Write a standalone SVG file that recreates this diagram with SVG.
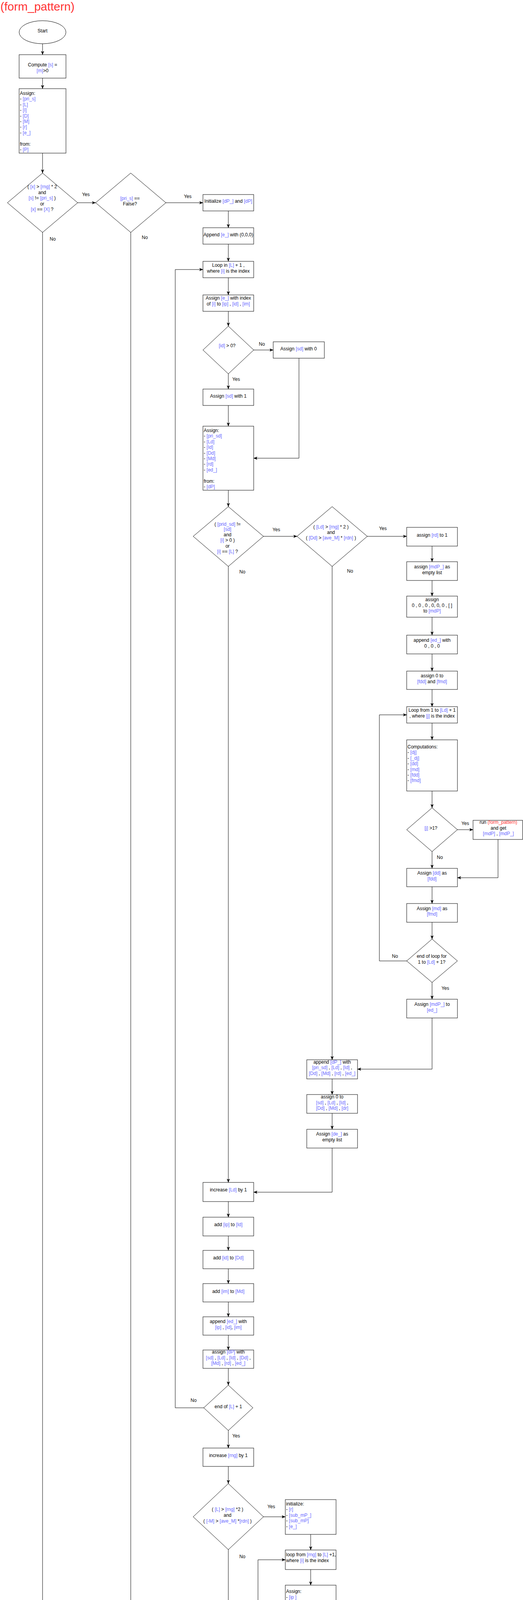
<svg xmlns="http://www.w3.org/2000/svg" width="1340" height="6288" viewBox="0 0 1340 6288">
<style>
.t{font-family:"Liberation Sans",Arial,Helvetica,sans-serif;font-size:12px;fill:#000}
.c{text-anchor:middle}
.v{fill:#6666FF}
.r{fill:#FF3333}
.n{fill:#fff;stroke:#000;stroke-width:1}
.e{fill:none;stroke:#000;stroke-width:1}
</style>
<defs>
<marker id="a" viewBox="0 0 10 8" markerWidth="10" markerHeight="8" refX="9.5" refY="4" orient="auto" markerUnits="userSpaceOnUse">
<path d="M0,0 L10,4 L0,8 L2.5,4 Z" fill="#000"/>
</marker>
</defs>
<rect x="0" y="0" width="1340" height="6288" fill="#fff"/>
<text x="1" y="27" style="font-family:'Liberation Sans',Arial,sans-serif;font-size:30px;fill:#FF3333">(form_pattern)</text>

<g id="connectors" class="e" marker-end="url(#a)">
<path d="M109,112V140"/>
<path d="M109,200V227"/>
<path d="M109,392V443"/>
<path d="M199,519H245"/>
<path d="M425,519H520"/>
<path d="M585,540V583"/>
<path d="M585,625V669"/>
<path d="M585,711V755"/>
<path d="M585,797V835"/>
<path d="M650,896H700"/>
<path d="M585,957V996"/>
<path d="M585,1038V1091"/>
<path d="M766,917V1173H650"/>
<path d="M585,1255V1297"/>
<path d="M675,1373H761"/>
<path d="M941,1373H1042"/>
<path d="M1107,1398V1438"/>
<path d="M1107,1486V1526"/>
<path d="M1107,1580V1626"/>
<path d="M1107,1674V1718"/>
<path d="M1107,1765V1809"/>
<path d="M1107,1851V1894"/>
<path d="M1107,2025V2068"/>
<path d="M1172,2124H1212"/>
<path d="M1107,2180V2223"/>
<path d="M1276,2149V2247H1172"/>
<path d="M1107,2270V2313"/>
<path d="M1107,2361V2404"/>
<path d="M1042,2460H972V1830H1042"/>
<path d="M1107,2515V2558"/>
<path d="M1107,2606V2737H916"/>
<path d="M851,1450V2713"/>
<path d="M851,2762V2802"/>
<path d="M851,2850V2891"/>
<path d="M851,2939V3052H650"/>
<path d="M585,1450V3027"/>
<path d="M585,3076V3116"/>
<path d="M585,3164V3201"/>
<path d="M585,3248V3286"/>
<path d="M585,3333V3371"/>
<path d="M585,3418V3456"/>
<path d="M585,3503V3546"/>
<path d="M522,3604H449V690H520"/>
<path d="M585,3662V3707"/>
<path d="M585,3754V3798"/>
<path d="M675,3883H731"/>
<path d="M796,3928V3968"/>
<path d="M796,4018V4058"/>
<path d="M796,4257V4298"/>
<path d="M858,4352H901"/>
<path d="M796,4407V4448"/>
<path d="M796,4498V4537"/>
<path d="M966,4378V4588H861"/>
<path d="M796,4638V4678"/>
<path d="M858,4732H917"/>
<path d="M796,4787V4838"/>
<path d="M982,4757V4898H865"/>
<path d="M727,4898H661V3993H731"/>
<path d="M796,4956V5002"/>
<path d="M796,5049V5163H650"/>
<path d="M585,3967V5138"/>
<path d="M585,5185V5272H400"/>
<path d="M335,595V5247"/>
<path d="M335,5297V5343"/>
<path d="M335,5390V5440"/>
<path d="M335,5487V5563H169"/>
<path d="M109,595V5537"/>
<path d="M109,5584V5625"/>
<path d="M109,5672V5712"/>
<path d="M109,5758V5799"/>
<path d="M109,5846V5885"/>
<path d="M109,5933V5972"/>
<path d="M109,6019V6057"/>
<path d="M109,6104V6142"/>
<path d="M109,6189V6227"/>
</g>

<g id="edge-labels" class="t c">
<text x="220" y="502">Yes</text>
<text x="481" y="507">Yes</text>
<text x="135" y="616">No</text>
<text x="371" y="612">No</text>
<text x="671" y="885">No</text>
<text x="605" y="975">Yes</text>
<text x="708" y="1360">Yes</text>
<text x="981" y="1357">Yes</text>
<text x="621" y="1468">No</text>
<text x="897" y="1466">No</text>
<text x="1192" y="2112">Yes</text>
<text x="1127" y="2199">No</text>
<text x="1012" y="2452">No</text>
<text x="1141" y="2534">Yes</text>
<text x="496" y="3589">No</text>
<text x="605" y="3680">Yes</text>
<text x="695" y="3861">Yes</text>
<text x="621" y="3989">No</text>
<text x="871" y="4339">Yes</text>
<text x="817" y="4429">No</text>
<text x="876" y="4721">Yes</text>
<text x="817" y="4814">No</text>
<text x="711" y="4886">No</text>
<text x="821" y="4971">Yes</text>
</g>

<g id="start"><ellipse class="n" cx="109" cy="82.5" rx="60" ry="29.5"/><text class="t c" x="109" y="83">Start</text></g>

<g id="compute-s"><rect class="n" x="49" y="140" width="120" height="60"/><text class="t c"><tspan x="109" y="170">Compute <tspan class="v">[s]</tspan> =</tspan><tspan x="109" y="185"><tspan class="v">[m]</tspan>&gt;0</tspan></text></g>

<g id="assign-1"><rect class="n" x="49" y="227" width="120" height="165"/><text class="t"><tspan x="51" y="243">Assign:</tspan><tspan x="51" y="257.4">- <tspan class="v">[pri_s]</tspan></tspan><tspan x="51" y="271.8">- <tspan class="v">[L]</tspan></tspan><tspan x="51" y="286.2">- <tspan class="v">[I]</tspan></tspan><tspan x="51" y="300.6">- <tspan class="v">[D]</tspan></tspan><tspan x="51" y="315">- <tspan class="v">[M]</tspan></tspan><tspan x="51" y="329.4">- <tspan class="v">[r]</tspan></tspan><tspan x="51" y="343.8">- <tspan class="v">[e_]</tspan></tspan><tspan x="51" y="372.6">from:</tspan><tspan x="51" y="387">- <tspan class="v">[P]</tspan></tspan></text></g>

<g id="dec-x-rng"><polygon class="n" points="109,443 199,519 109,595 19,519"/><text class="t c"><tspan x="108" y="482">( <tspan class="v">[x]</tspan> &gt; <tspan class="v">[rng]</tspan> * 2</tspan><tspan x="108" y="496.5">and</tspan><tspan x="108" y="511"><tspan class="v">[s]</tspan> != <tspan class="v">[pri_s]</tspan> )</tspan><tspan x="108" y="525.5">or</tspan><tspan x="108" y="540"><tspan class="v">[x]</tspan> == <tspan class="v">[X]</tspan> ?</tspan></text></g>

<g id="dec-pri-s"><polygon class="n" points="335,443 425,519 335,595 245,519"/><text class="t c"><tspan x="333" y="512"><tspan class="v">[pri_s]</tspan> ==</tspan><tspan x="333" y="526">False?</tspan></text></g>

<g id="init-dp"><rect class="n" x="520" y="498" width="130" height="42"/><text class="t c" x="585" y="519">Initialize <tspan class="v">[dP_]</tspan> and <tspan class="v">[dP]</tspan></text></g>

<g id="append-e"><rect class="n" x="520" y="583" width="130" height="42"/><text class="t c" x="585" y="605">Append <tspan class="v">[e_]</tspan> with (0,0,0)</text></g>

<g id="loop-L"><rect class="n" x="520" y="669" width="130" height="42"/><text class="t c"><tspan x="585" y="683">Loop in  <tspan class="v">[L]</tspan> + 1 ,</tspan><tspan x="585" y="697.5">where <tspan class="v">[i]</tspan> is the index</tspan></text></g>

<g id="assign-e-index"><rect class="n" x="520" y="755" width="130" height="42"/><text class="t c"><tspan x="585" y="767">Assign <tspan class="v">[e_]</tspan> with index</tspan><tspan x="585" y="782">of <tspan class="v">[i]</tspan> to <tspan class="v">[ip]</tspan> , <tspan class="v">[id]</tspan> , <tspan class="v">[im]</tspan></tspan></text></g>

<g id="dec-id"><polygon class="n" points="585,835 650,896 585,957 520,896"/><text class="t c" x="582" y="889"><tspan class="v">[id]</tspan> &gt; 0?</text></g>

<g id="assign-sd0"><rect class="n" x="700" y="875" width="131" height="42"/><text class="t c" x="765" y="897">Assign <tspan class="v">[sd]</tspan> with 0</text></g>

<g id="assign-sd1"><rect class="n" x="520" y="996" width="130" height="42"/><text class="t c" x="585" y="1018">Assign <tspan class="v">[sd]</tspan> with 1</text></g>

<g id="assign-2"><rect class="n" x="520" y="1091" width="130" height="164"/><text class="t"><tspan x="522" y="1106">Assign:</tspan><tspan x="522" y="1120.4">- <tspan class="v">[pri_sd]</tspan></tspan><tspan x="522" y="1134.8">- <tspan class="v">[Ld]</tspan></tspan><tspan x="522" y="1149.2">- <tspan class="v">[Id]</tspan></tspan><tspan x="522" y="1163.6">- <tspan class="v">[Dd]</tspan></tspan><tspan x="522" y="1178">- <tspan class="v">[Md]</tspan></tspan><tspan x="522" y="1192.4">- <tspan class="v">[rd]</tspan></tspan><tspan x="522" y="1206.8">- <tspan class="v">[ed_]</tspan></tspan><tspan x="522" y="1235.6">from:</tspan><tspan x="522" y="1250">- <tspan class="v">[dP]</tspan></tspan></text></g>

<g id="dec-prid"><polygon class="n" points="585,1297 675,1373 585,1450 495,1373"/><text class="t c"><tspan x="583" y="1346">( <tspan class="v">[prid_sd]</tspan> !=</tspan><tspan x="583" y="1359"><tspan class="v">[sd]</tspan></tspan><tspan x="583" y="1373">and</tspan><tspan x="583" y="1387"><tspan class="v">[i]</tspan> &gt; 0 )</tspan><tspan x="583" y="1402">or</tspan><tspan x="583" y="1416"><tspan class="v">[i]</tspan> == <tspan class="v">[L]</tspan> ?</tspan></text></g>

<g id="dec-Ld"><polygon class="n" points="851,1297 941,1373 851,1450 761,1373"/><text class="t c"><tspan x="848" y="1353">( <tspan class="v">[Ld]</tspan> &gt; <tspan class="v">[rng]</tspan> * 2 )</tspan><tspan x="848" y="1367">and</tspan><tspan x="848" y="1381">( <tspan class="v">[Dd]</tspan> &gt; <tspan class="v">[ave_M]</tspan> * <tspan class="v">[rdn]</tspan> )</tspan></text></g>

<g id="assign-rd"><rect class="n" x="1042" y="1350" width="130" height="48"/><text class="t c" x="1107" y="1374">assign <tspan class="v">[rd]</tspan> to 1</text></g>

<g id="assign-mdP_"><rect class="n" x="1042" y="1438" width="130" height="48"/><text class="t c"><tspan x="1107" y="1455">assign <tspan class="v">[mdP_]</tspan> as</tspan><tspan x="1107" y="1470">empty list</tspan></text></g>

<g id="assign-mdP"><rect class="n" x="1042" y="1526" width="130" height="54"/><text class="t c"><tspan x="1107" y="1539">assign</tspan><tspan x="1107" y="1554">0 , 0 , 0 , 0, 0, 0 , [ ]</tspan><tspan x="1107" y="1568">to <tspan class="v">[mdP]</tspan></tspan></text></g>

<g id="append-ed"><rect class="n" x="1042" y="1626" width="130" height="48"/><text class="t c"><tspan x="1107" y="1643">append <tspan class="v">[ed_]</tspan> with</tspan><tspan x="1107" y="1658">0 , 0 , 0</tspan></text></g>

<g id="assign-fdd"><rect class="n" x="1042" y="1718" width="130" height="47"/><text class="t c"><tspan x="1107" y="1734">assign 0 to</tspan><tspan x="1107" y="1749"><tspan class="v">[fdd]</tspan> and <tspan class="v">[fmd]</tspan></tspan></text></g>

<g id="loop-j"><rect class="n" x="1042" y="1809" width="130" height="42"/><text class="t c"><tspan x="1107" y="1822">Loop from 1 to  <tspan class="v">[Ld]</tspan> + 1</tspan><tspan x="1107" y="1837">, where <tspan class="v">[j]</tspan> is the index</tspan></text></g>

<g id="computations-1"><rect class="n" x="1042" y="1894" width="130" height="131"/><text class="t"><tspan x="1044" y="1916">Computations:</tspan><tspan x="1044" y="1930.4">- <tspan class="v">[dj]</tspan></tspan><tspan x="1044" y="1944.8">- <tspan class="v">[_dj]</tspan></tspan><tspan x="1044" y="1959.2">- <tspan class="v">[dd]</tspan></tspan><tspan x="1044" y="1973.6">- <tspan class="v">[md]</tspan></tspan><tspan x="1044" y="1988">- <tspan class="v">[fdd]</tspan></tspan><tspan x="1044" y="2002.4">- <tspan class="v">[fmd]</tspan></tspan></text></g>

<g id="dec-j"><polygon class="n" points="1107,2068 1172,2124 1107,2180 1042,2124"/><text class="t c" x="1104" y="2124"><tspan class="v">[j]</tspan> &gt;1?</text></g>

<g id="run-fp-1"><rect class="n" x="1212" y="2100" width="127" height="49"/><text class="t c"><tspan x="1277" y="2109">run <tspan class="r">(form_pattern)</tspan></tspan><tspan x="1277" y="2124">and get</tspan><tspan x="1277" y="2138"><tspan class="v">[mdP]</tspan> , <tspan class="v">[mdP_]</tspan></tspan></text></g>

<g id="assign-dd"><rect class="n" x="1042" y="2223" width="130" height="47"/><text class="t c"><tspan x="1107" y="2239">Assign <tspan class="v">[dd]</tspan> as</tspan><tspan x="1107" y="2254"><tspan class="v">[fdd]</tspan></tspan></text></g>

<g id="assign-md"><rect class="n" x="1042" y="2313" width="130" height="48"/><text class="t c"><tspan x="1107" y="2330">Assign <tspan class="v">[md]</tspan> as</tspan><tspan x="1107" y="2344"><tspan class="v">[fmd]</tspan></tspan></text></g>

<g id="dec-end-j"><polygon class="n" points="1107,2404 1172,2460 1107,2515 1042,2460"/><text class="t c"><tspan x="1106" y="2452">end of loop for</tspan><tspan x="1106" y="2467">1 to  <tspan class="v">[Ld]</tspan> + 1?</tspan></text></g>

<g id="assign-mdP-ed"><rect class="n" x="1042" y="2558" width="130" height="48"/><text class="t c"><tspan x="1107" y="2575">Assign <tspan class="v">[mdP_]</tspan> to</tspan><tspan x="1107" y="2590"><tspan class="v">[ed_]</tspan></tspan></text></g>

<g id="append-dP_"><rect class="n" x="786" y="2713" width="130" height="49"/><text class="t c"><tspan x="851" y="2723">append <tspan class="v">[dP_]</tspan> with</tspan><tspan x="851" y="2737"><tspan class="v">[pri_sd]</tspan> , <tspan class="v">[Ld]</tspan> , <tspan class="v">[Id]</tspan> ,</tspan><tspan x="851" y="2752"><tspan class="v">[Dd]</tspan> , <tspan class="v">[Md]</tspan> , <tspan class="v">[rd]</tspan> , <tspan class="v">[ed_]</tspan></tspan></text></g>

<g id="assign-zero-d"><rect class="n" x="786" y="2802" width="130" height="48"/><text class="t c"><tspan x="851" y="2812">assign 0 to</tspan><tspan x="851" y="2827"><tspan class="v">[sd]</tspan> , <tspan class="v">[Ld]</tspan> , <tspan class="v">[Id]</tspan> ,</tspan><tspan x="851" y="2841"><tspan class="v">[Dd]</tspan> , <tspan class="v">[Md]</tspan> , <tspan class="v">[dr]</tspan></tspan></text></g>

<g id="assign-de"><rect class="n" x="786" y="2891" width="130" height="48"/><text class="t c"><tspan x="851" y="2907">Assign <tspan class="v">[de_]</tspan> as</tspan><tspan x="851" y="2922">empty list</tspan></text></g>

<g id="inc-Ld"><rect class="n" x="520" y="3027" width="130" height="49"/><text class="t c" x="585" y="3050">increase <tspan class="v">[Ld]</tspan> by 1</text></g>

<g id="add-ip"><rect class="n" x="520" y="3116" width="130" height="48"/><text class="t c" x="585" y="3139">add <tspan class="v">[ip]</tspan> to <tspan class="v">[Id]</tspan></text></g>

<g id="add-id"><rect class="n" x="520" y="3201" width="130" height="47"/><text class="t c" x="585" y="3224">add <tspan class="v">[id]</tspan> to <tspan class="v">[Dd]</tspan></text></g>

<g id="add-im"><rect class="n" x="520" y="3286" width="130" height="47"/><text class="t c" x="585" y="3310">add <tspan class="v">[im]</tspan> to <tspan class="v">[Md]</tspan></text></g>

<g id="append-ed-2"><rect class="n" x="520" y="3371" width="130" height="47"/><text class="t c"><tspan x="585" y="3387">append <tspan class="v">[ed_]</tspan> with</tspan><tspan x="585" y="3402"><tspan class="v">[ip]</tspan> , <tspan class="v">[id]</tspan>, <tspan class="v">[im]</tspan></tspan></text></g>

<g id="assign-dP"><rect class="n" x="520" y="3456" width="130" height="47"/><text class="t c"><tspan x="585" y="3465">assign <tspan class="v">[dP]</tspan> with</tspan><tspan x="585" y="3480"><tspan class="v">[sd]</tspan> , <tspan class="v">[Ld]</tspan> , <tspan class="v">[Id]</tspan> , <tspan class="v">[Dd]</tspan> ,</tspan><tspan x="585" y="3494"><tspan class="v">[Md]</tspan> , <tspan class="v">[rd]</tspan> , <tspan class="v">[ed_]</tspan></tspan></text></g>

<g id="dec-end-L"><polygon class="n" points="585,3546 648,3604 585,3662 522,3604"/><text class="t c" x="585" y="3605">end of  <tspan class="v">[L]</tspan> + 1</text></g>

<g id="inc-rng"><rect class="n" x="520" y="3707" width="130" height="47"/><text class="t c" x="585" y="3730">increase <tspan class="v">[rng]</tspan> by 1</text></g>

<g id="dec-L-rng"><polygon class="n" points="585,3798 675,3883 585,3967 495,3883"/><text class="t c"><tspan x="583" y="3868">( <tspan class="v">[L]</tspan> &gt; <tspan class="v">[rng]</tspan> *2 )</tspan><tspan x="583" y="3883">and</tspan><tspan x="583" y="3898">( <tspan class="v">[-M]</tspan> &gt; <tspan class="v">[ave_M]</tspan> *<tspan class="v">[rdn]</tspan> )</tspan></text></g>

<g id="initialize-2"><rect class="n" x="731" y="3839" width="130" height="89"/><text class="t"><tspan x="733" y="3854">initialize:</tspan><tspan x="733" y="3868.4">- <tspan class="v">[r]</tspan></tspan><tspan x="733" y="3882.8">- <tspan class="v">[sub_mP_]</tspan></tspan><tspan x="733" y="3897.2">- <tspan class="v">[sub_mP]</tspan></tspan><tspan x="733" y="3911.6">- <tspan class="v">[e_]</tspan></tspan></text></g>

<g id="loop-rng"><rect class="n" x="731" y="3968" width="130" height="50"/><text class="t"><tspan x="733" y="3984">loop from <tspan class="v">[rng]</tspan> to <tspan class="v">[L]</tspan> +1,</tspan><tspan x="733" y="3999">where <tspan class="v">[i]</tspan> is the index</tspan></text></g>

<g id="assign-3"><rect class="n" x="731" y="4058" width="130" height="199"/><text class="t"><tspan x="733" y="4078">Assign:</tspan><tspan x="733" y="4093">- <tspan class="v">[ip ]</tspan></tspan><tspan x="733" y="4107">- <tspan class="v">[fd]</tspan></tspan><tspan x="733" y="4121">- <tspan class="v">[fm]</tspan></tspan><tspan x="733" y="4136">- <tspan class="v">[_ip]</tspan></tspan><tspan x="733" y="4150">- <tspan class="v">[_fd]</tspan></tspan><tspan x="733" y="4165">- <tspan class="v">[_fm]</tspan></tspan><tspan x="733" y="4193">from :</tspan><tspan x="733" y="4207">- <tspan class="v">[e_]</tspan> with index <tspan class="v">[i]</tspan></tspan><tspan x="733" y="4222">- <tspan class="v">[e_]</tspan> with index</tspan><tspan x="733" y="4237"><tspan class="v">[i]</tspan> - <tspan class="v">[rng]</tspan></tspan></text></g>

<g id="dec-dderived"><polygon class="n" points="796,4298 858,4352 796,4407 734,4352"/><text class="t c"><tspan x="793" y="4352"><tspan class="v">[dderived]</tspan> =</tspan><tspan x="793" y="4367">True?</tspan></text></g>

<g id="compute-em-min"><rect class="n" x="901" y="4328" width="130" height="50"/><text class="t c"><tspan x="966" y="4338">compute <tspan class="v">[em]</tspan> by using</tspan><tspan x="966" y="4353">minimum of <tspan class="v">[ip]</tspan> , <tspan class="v">[_ip]</tspan></tspan><tspan x="966" y="4367">subtract <tspan class="v">[ave_M]</tspan></tspan></text></g>

<g id="compute-em-abs"><rect class="n" x="731" y="4448" width="130" height="50"/><text class="t c"><tspan x="796" y="4458">compute <tspan class="v">[em]</tspan> by using</tspan><tspan x="796" y="4472"><tspan class="v">[ave_d]</tspan> subtract</tspan><tspan x="796" y="4487">absolute of <tspan class="v">[ed]</tspan></tspan></text></g>

<g id="computations-2"><rect class="n" x="731" y="4537" width="130" height="101"/><text class="t"><tspan x="733" y="4552">Computations:</tspan><tspan x="733" y="4566.4">- <tspan class="v">[fd]</tspan></tspan><tspan x="733" y="4580.8">- <tspan class="v">[fm]</tspan></tspan><tspan x="733" y="4595.2">- <tspan class="v">[e_]</tspan></tspan><tspan x="733" y="4609.6">- <tspan class="v">[_fd]</tspan></tspan><tspan x="733" y="4624">- <tspan class="v">[_fm]</tspan></tspan></text></g>

<g id="dec-i-rng"><polygon class="n" points="796,4678 858,4732 796,4787 734,4732"/><text class="t c" x="794" y="4733"><tspan class="v">[i]</tspan> &gt;= <tspan class="v">[rng]</tspan> * 2</text></g>

<g id="run-fp-2"><rect class="n" x="917" y="4709" width="130" height="48"/><text class="t c"><tspan x="982" y="4718">run <tspan class="r">(form_pattern)</tspan></tspan><tspan x="982" y="4733">and get</tspan><tspan x="982" y="4747"><tspan class="v">[sub_mP]</tspan> , <tspan class="v">[sub_mP_]</tspan></tspan></text></g>

<g id="dec-end-rng"><polygon class="n" points="796,4838 865,4898 796,4956 727,4898"/><text class="t c" x="796" y="4896">end of <tspan class="v">[rng]</tspan> to <tspan class="v">[L]</tspan> +1?</text></g>

<g id="assign-sub-mP"><rect class="n" x="731" y="5002" width="130" height="47"/><text class="t c"><tspan x="796" y="5018">Assign <tspan class="v">[sub_mP_]</tspan></tspan><tspan x="796" y="5033">as <tspan class="v">[e_]</tspan></tspan></text></g>

<g id="assign-e-dP"><rect class="n" x="520" y="5138" width="130" height="47"/><text class="t c"><tspan x="585" y="5154">Assign <tspan class="v">[e_]</tspan> and <tspan class="v">[dP_]</tspan></tspan><tspan x="585" y="5169">as <tspan class="v">[e_]</tspan></tspan></text></g>

<g id="append-P_"><rect class="n" x="270" y="5247" width="130" height="50"/><text class="t c"><tspan x="335" y="5258">Append <tspan class="v">[P_]</tspan> with</tspan><tspan x="335" y="5273"><tspan class="v">[pri_s]</tspan> , <tspan class="v">[L]</tspan> , <tspan class="v">[I]</tspan> ,</tspan><tspan x="335" y="5287"><tspan class="v">[D]</tspan> , <tspan class="v">[M]</tspan> , <tspan class="v">[r]</tspan> , <tspan class="v">[e_]</tspan></tspan></text></g>

<g id="assign-zero"><rect class="n" x="270" y="5343" width="130" height="47"/><text class="t c"><tspan x="335" y="5359">Assign <tspan class="v">[L]</tspan> , <tspan class="v">[I]</tspan> , <tspan class="v">[D]</tspan> ,</tspan><tspan x="335" y="5374"><tspan class="v">[M]</tspan> , <tspan class="v">[r]</tspan> , <tspan class="v">[e]</tspan> with 0</tspan></text></g>

<g id="assign-e-empty"><rect class="n" x="270" y="5440" width="130" height="47"/><text class="t c"><tspan x="335" y="5456">Assign <tspan class="v">[e]</tspan> as</tspan><tspan x="335" y="5471">empty list</tspan></text></g>

<g id="assign-s-pri"><rect class="n" x="49" y="5537" width="120" height="47"/><text class="t c" x="109" y="5561">Assign <tspan class="v">[s]</tspan> to <tspan class="v">[pri_s]</tspan></text></g>

<g id="inc-L"><rect class="n" x="49" y="5625" width="120" height="47"/><text class="t c" x="106" y="5648">Increase <tspan class="v">[L]</tspan> by 1</text></g>

<g id="add-pri-p"><rect class="n" x="49" y="5712" width="120" height="46"/><text class="t c" x="106" y="5735">Add <tspan class="v">[pri_p]</tspan> to <tspan class="v">[I]</tspan></text></g>

<g id="add-d"><rect class="n" x="49" y="5799" width="120" height="47"/><text class="t c" x="106" y="5822">Add <tspan class="v">[d]</tspan> to <tspan class="v">[D]</tspan></text></g>

<g id="add-m"><rect class="n" x="49" y="5885" width="120" height="48"/><text class="t c" x="106" y="5909">Add <tspan class="v">[m]</tspan> to <tspan class="v">[M]</tspan></text></g>

<g id="inc-element"><rect class="n" x="49" y="5972" width="120" height="47"/><text class="t c"><tspan x="109" y="5982">Increase element of</tspan><tspan x="109" y="5997">list  <tspan class="v">[e_]</tspan> from tuple of</tspan><tspan x="109" y="6011"><tspan class="v">[pri_p]</tspan> , <tspan class="v">[d]</tspan> , <tspan class="v">[m]</tspan></tspan></text></g>

<g id="assign-P"><rect class="n" x="49" y="6057" width="120" height="47"/><text class="t c"><tspan x="108" y="6066">Assign <tspan class="v">[pri_s]</tspan> , <tspan class="v">[L]</tspan> ,</tspan><tspan x="108" y="6081"><tspan class="v">[I]</tspan> , <tspan class="v">[D]</tspan> , <tspan class="v">[M]</tspan> , <tspan class="v">[r]</tspan> ,</tspan><tspan x="108" y="6096"><tspan class="v">[e_]</tspan> to <tspan class="v">[P]</tspan></tspan></text></g>

<g id="return"><rect class="n" x="49" y="6142" width="120" height="47"/><text class="t c" x="106" y="6165">Return <tspan class="v">[P]</tspan> and <tspan class="v">[P_]</tspan></text></g>

<g id="end"><ellipse class="n" cx="109" cy="6256.5" rx="60" ry="29.5"/><text class="t c" x="106" y="6257">End</text></g>
</svg>
